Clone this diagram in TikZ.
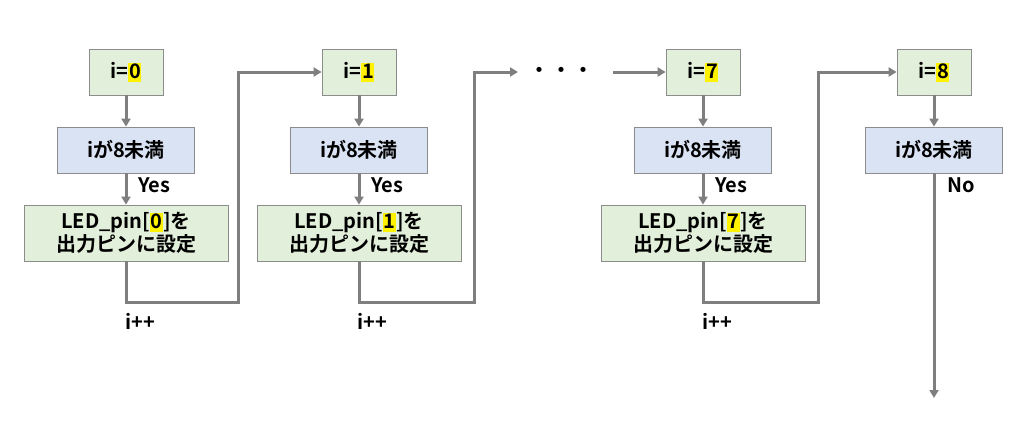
\documentclass[tikz,border=0pt]{standalone}
\usepackage{fontspec}
\setmainfont{Noto Sans CJK JP}[BoldFont={* Bold}]
\usetikzlibrary{arrows.meta}
\definecolor{boxgreen}{HTML}{E2EFDA}
\definecolor{boxblue}{HTML}{DAE3F3}
\definecolor{edge}{HTML}{8C8C8C}
\definecolor{conn}{HTML}{7F7F7F}
\newcommand\hlt[1]{{\setlength{\fboxsep}{0.6pt}\colorbox{yellow}{\rule[-3pt]{0pt}{18pt}#1}}}
\tikzset{
  base/.style={draw=edge, line width=0.8pt, align=center, font=\bfseries\fontsize{20}{23}\selectfont, inner sep=0pt},
  initbox/.style={base, fill=boxgreen, minimum width=74pt, minimum height=46pt},
  decbox/.style={base, fill=boxblue, minimum width=137pt, minimum height=46pt},
  actbox/.style={base, fill=boxgreen, minimum width=204pt, minimum height=56pt},
  flow/.style={draw=conn, line width=3pt},
  flowarrow/.style={flow, -{Triangle[length=8pt,width=9pt]}},
  lbl/.style={font=\bfseries\fontsize{20}{23}\selectfont, inner sep=0pt}
}
\begin{document}
\begin{tikzpicture}[x=1pt,y=-1pt]
\useasboundingbox (0,0) rectangle (1024,420);
% column 1
\node[initbox] (a0) at (126,72) {i=\hlt{0}};
\node[decbox]  (d0) at (126,150) {iが8未満};
\node[actbox]  (p0) at (126,233) {LED\_pin[\hlt{0}]を\\出力ピンに設定};
% column 2
\node[initbox] (a1) at (359,72) {i=\hlt{1}};
\node[decbox]  (d1) at (359,150) {iが8未満};
\node[actbox]  (p1) at (359,233) {LED\_pin[\hlt{1}]を\\出力ピンに設定};
% column 3
\node[initbox] (a7) at (703,72) {i=\hlt{7}};
\node[decbox]  (d7) at (703,150) {iが8未満};
\node[actbox]  (p7) at (703,233) {LED\_pin[\hlt{7}]を\\出力ピンに設定};
% column 4
\node[initbox] (a8) at (934,72) {i=\hlt{8}};
\node[decbox]  (d8) at (934,150) {iが8未満};
% dots
\node[lbl] (dots) at (561,72) {・\hspace{2pt}・\hspace{2pt}・};
\coordinate (dl) at (518,72);
\coordinate (dr) at (613,72);
\coordinate (c0) at (238,302);
\coordinate (c1) at (474,302);
\coordinate (c7) at (818,302);
\coordinate (end) at (934,398);
% connectors
\draw[flowarrow] (a0) -- (d0);
\draw[flowarrow] (d0) -- (p0);
\draw[flowarrow] (p0.south) |- (c0) |- (a1.west);
\draw[flowarrow] (a1) -- (d1);
\draw[flowarrow] (d1) -- (p1);
\draw[flowarrow] (p1.south) |- (c1) |- (dl);
\draw[flowarrow] (dr) -- (a7.west);
\draw[flowarrow] (a7) -- (d7);
\draw[flowarrow] (d7) -- (p7);
\draw[flowarrow] (p7.south) |- (c7) |- (a8.west);
\draw[flowarrow] (a8) -- (d8);
\draw[flowarrow] (d8) -- (end);
% labels
\node[lbl, anchor=west] (y0) at (138,185) {Yes};
\node[lbl, anchor=west] (y1) at (371,185) {Yes};
\node[lbl, anchor=west] (y7) at (715,185) {Yes};
\node[lbl, anchor=west] (n8) at (947,185) {No};
\node[lbl, anchor=west] (i0) at (125,321) {i++};
\node[lbl, anchor=west] (i1) at (357,321) {i++};
\node[lbl, anchor=west] (i7) at (702,321) {i++};
\end{tikzpicture}
\end{document}
